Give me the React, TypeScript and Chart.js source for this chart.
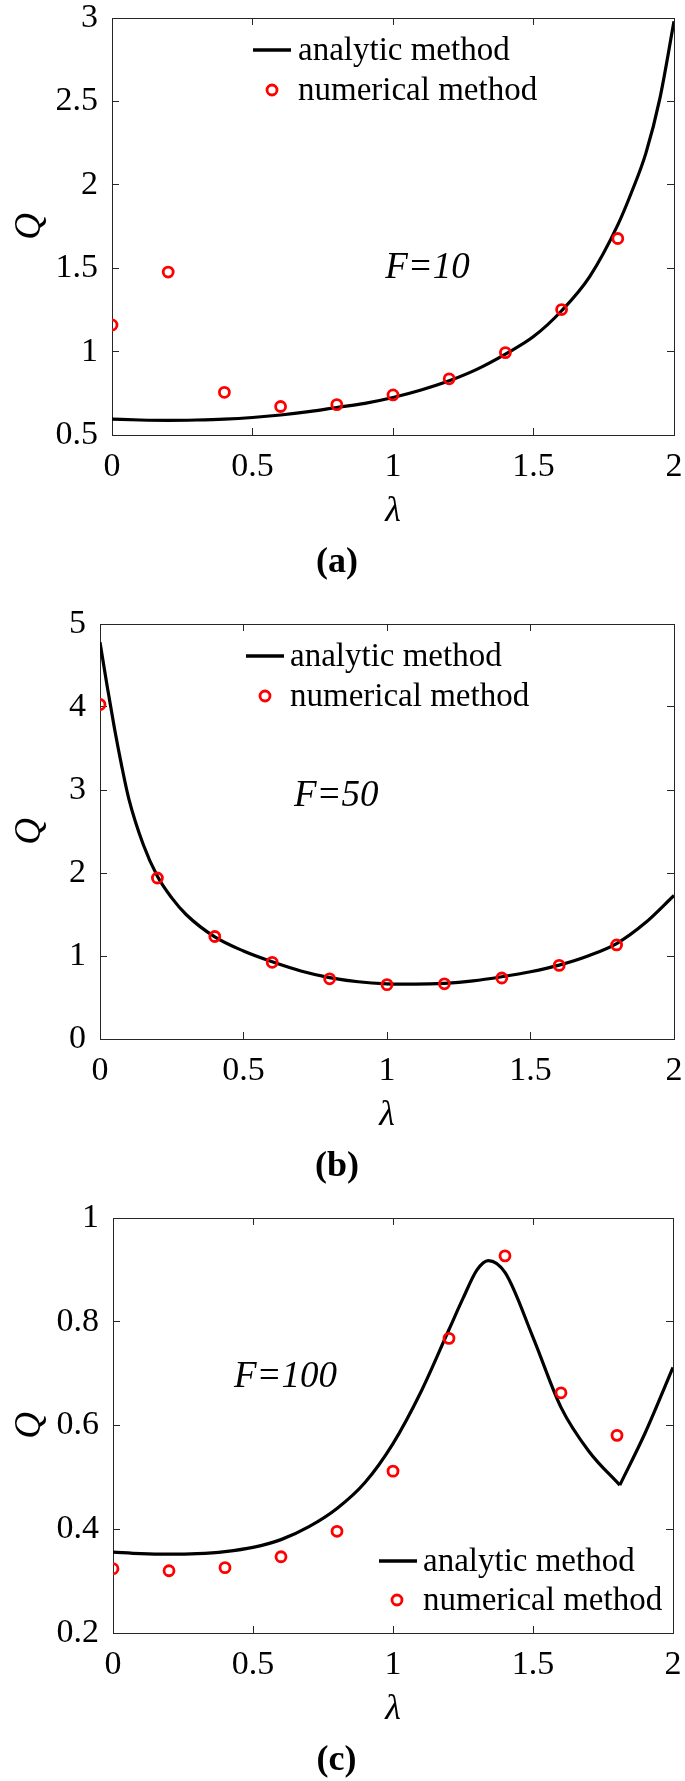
import React, { useEffect, useRef } from 'react';
import { Chart, registerables } from 'chart.js';

Chart.register(...registerables);

const FONT = '"Liberation Serif", "Times New Roman", Times, serif';
const AXIS_COLOR = '#262626';

// ---------- data ----------
const X_TICKS = [0, 0.5, 1, 1.5, 2];
const X_LABELS = ['0', '0.5', '1', '1.5', '2'];

const LAMBDA_NUM = [0, 0.2, 0.4, 0.6, 0.8, 1.0, 1.2, 1.4, 1.6, 1.8];

// (a) F=10
const Y_TICKS_A = [0.5, 1, 1.5, 2, 2.5, 3];
const Y_LABELS_A = ['0.5', '1', '1.5', '2', '2.5', '3'];
const NUM_A = [1.16, 1.477, 0.756, 0.671, 0.682, 0.74, 0.837, 0.994, 1.252, 1.678];
const LAMBDA_ANA_A = [0, 0.1, 0.2, 0.3, 0.4, 0.5, 0.6, 0.7, 0.8, 0.9, 1.0, 1.1, 1.2, 1.3, 1.4, 1.5, 1.6, 1.7, 1.8, 1.85, 1.9, 1.95, 2.0];
const ANA_A = [0.595, 0.59, 0.588, 0.59, 0.595, 0.605, 0.62, 0.64, 0.665, 0.69, 0.725, 0.77, 0.825, 0.895, 0.985, 1.09, 1.245, 1.45, 1.76, 1.96, 2.19, 2.52, 2.98];

// (b) F=50
const Y_TICKS_B = [0, 1, 2, 3, 4, 5];
const Y_LABELS_B = ['0', '1', '2', '3', '4', '5'];
const NUM_B = [4.03, 1.94, 1.235, 0.924, 0.725, 0.655, 0.665, 0.735, 0.887, 1.133];
const LAMBDA_ANA_B = [0, 0.025, 0.05, 0.075, 0.1, 0.15, 0.2, 0.25, 0.3, 0.4, 0.5, 0.6, 0.7, 0.8, 0.9, 1.0, 1.1, 1.2, 1.3, 1.4, 1.5, 1.6, 1.7, 1.8, 1.9, 2.0];
const ANA_B = [4.78, 4.25, 3.75, 3.3, 2.9, 2.35, 1.96, 1.7, 1.5, 1.23, 1.06, 0.93, 0.82, 0.74, 0.69, 0.665, 0.66, 0.67, 0.7, 0.75, 0.81, 0.89, 1.0, 1.15, 1.4, 1.73];

// (c) F=100
const Y_TICKS_C = [0.2, 0.4, 0.6, 0.8, 1];
const Y_LABELS_C = ['0.2', '0.4', '0.6', '0.8', '1'];
const NUM_C = [0.324, 0.32, 0.326, 0.347, 0.396, 0.512, 0.768, 0.927, 0.663, 0.581];
const LAMBDA_ANA_C1 = [0, 0.1, 0.2, 0.3, 0.4, 0.5, 0.6, 0.7, 0.8, 0.9, 1.0, 1.1, 1.2, 1.25, 1.3, 1.34, 1.4, 1.5, 1.6, 1.7, 1.81];
const ANA_C1 = [0.356, 0.353, 0.352, 0.353, 0.357, 0.365, 0.38, 0.405, 0.44, 0.49, 0.565, 0.665, 0.785, 0.845, 0.9, 0.918, 0.895, 0.77, 0.635, 0.55, 0.485];
const LAMBDA_ANA_C2 = [1.81, 1.9, 2.0];
const ANA_C2 = [0.485, 0.585, 0.712];

const SERIES_LINE = 'analytic method';
const SERIES_POINTS = 'numerical method';

type Panel = {
  key: string;
  top: number;
  height: number;
  padTop: number;
  axisLeft: number;
  padRight: number;
  captionPad: number;
  caption: string;
  yMin: number;
  yMax: number;
  yTicks: number[];
  yLabels: string[];
  num: number[];
  curves: { x: number[]; y: number[] }[];
  note: string;
  noteAt: [number, number];
  legend: { lineX: [number, number]; markerX: number; textX: number; row1: number; row2: number };
};

const PANELS: Panel[] = [
  {
    key: 'a', top: 0, height: 600, padTop: 18, axisLeft: 112, padRight: 11, captionPad: 19, caption: '(a)',
    yMin: 0.5, yMax: 3, yTicks: Y_TICKS_A, yLabels: Y_LABELS_A, num: NUM_A,
    curves: [{ x: LAMBDA_ANA_A, y: ANA_A }],
    note: 'F=10', noteAt: [0.972, 1.5],
    legend: { lineX: [141, 179], markerX: 160, textX: 186, row1: 32, row2: 72 },
  },
  {
    key: 'b', top: 600, height: 600, padTop: 24, axisLeft: 100, padRight: 11, captionPad: 15, caption: '(b)',
    yMin: 0, yMax: 5, yTicks: Y_TICKS_B, yLabels: Y_LABELS_B, num: NUM_B,
    curves: [{ x: LAMBDA_ANA_B, y: ANA_B }],
    note: 'F=50', noteAt: [0.676, 2.93],
    legend: { lineX: [146, 184], markerX: 165, textX: 190, row1: 32, row2: 72 },
  },
  {
    key: 'c', top: 1200, height: 581, padTop: 18, axisLeft: 113, padRight: 12, captionPad: 2, caption: '(c)',
    yMin: 0.2, yMax: 1, yTicks: Y_TICKS_C, yLabels: Y_LABELS_C, num: NUM_C,
    curves: [{ x: LAMBDA_ANA_C1, y: ANA_C1 }, { x: LAMBDA_ANA_C2, y: ANA_C2 }],
    note: 'F=100', noteAt: [0.432, 0.693],
    legend: { lineX: [266, 304], markerX: 284, textX: 310, row1: 343, row2: 382 },
  },
];

function gridOpts() {
  return { display: true, drawOnChartArea: false, drawTicks: true, tickLength: -7, color: AXIS_COLOR, lineWidth: 1 };
}
function borderOpts() {
  return { display: true, color: AXIS_COLOR, width: 1 };
}
function noPad(s: any) {
  s.paddingTop = 0;
  s.paddingBottom = 0;
  s.paddingLeft = 0;
  s.paddingRight = 0;
}

function buildChart(canvas: HTMLCanvasElement, p: Panel) {
  const overlay = {
    id: 'overlay_' + p.key,
    afterDatasetsDraw(chart: any) {
      const { ctx, chartArea: ca, scales } = chart;
      ctx.save();
      ctx.fillStyle = '#000';
      ctx.textAlign = 'left';
      ctx.textBaseline = 'middle';
      // annotation
      ctx.font = `italic 37px ${FONT}`;
      ctx.fillText(p.note, scales.x.getPixelForValue(p.noteAt[0]), scales.y.getPixelForValue(p.noteAt[1]));
      // legend
      const L = p.legend;
      ctx.strokeStyle = '#000';
      ctx.lineWidth = 3.5;
      ctx.beginPath();
      ctx.moveTo(ca.left + L.lineX[0], ca.top + L.row1);
      ctx.lineTo(ca.left + L.lineX[1], ca.top + L.row1);
      ctx.stroke();
      ctx.strokeStyle = '#ff0000';
      ctx.lineWidth = 2.8;
      ctx.beginPath();
      ctx.arc(ca.left + L.markerX, ca.top + L.row2, 5, 0, Math.PI * 2);
      ctx.stroke();
      ctx.font = `33px ${FONT}`;
      ctx.fillText(SERIES_LINE, ca.left + L.textX, ca.top + L.row1 + 1);
      ctx.fillText(SERIES_POINTS, ca.left + L.textX, ca.top + L.row2 + 1);
      ctx.restore();
    },
  };

  const tickFont = { family: FONT, size: 34, lineHeight: 1 };

  const datasets: any[] = [
    {
      label: SERIES_POINTS,
      data: LAMBDA_NUM.map((x, i) => ({ x, y: p.num[i] })),
      showLine: false,
      pointRadius: 5,
      pointHoverRadius: 5,
      pointBorderWidth: 2.8,
      borderColor: '#ff0000',
      pointBorderColor: '#ff0000',
      backgroundColor: 'rgba(0,0,0,0)',
      pointBackgroundColor: 'rgba(0,0,0,0)',
      order: 0,
    },
    ...p.curves.map((c) => ({
      label: SERIES_LINE,
      data: c.x.map((x, i) => ({ x, y: c.y[i] })),
      showLine: true,
      borderColor: '#000',
      borderWidth: 3.2,
      pointRadius: 0,
      pointHoverRadius: 0,
      cubicInterpolationMode: 'monotone',
      fill: false,
      order: 1,
    })),
  ];

  return new Chart(canvas, {
    type: 'scatter',
    data: { datasets },
    options: {
      responsive: false,
      animation: false,
      devicePixelRatio: 1,
      events: [],
      layout: { padding: { top: p.padTop, right: p.padRight, left: 0, bottom: 0 } },
      plugins: {
        legend: { display: false },
        tooltip: { enabled: false },
        title: {
          display: true,
          position: 'bottom',
          text: p.caption,
          color: '#000',
          font: { family: FONT, size: 36, weight: 'bold', lineHeight: 1 },
          padding: { top: 0, bottom: p.captionPad },
        },
      },
      scales: {
        x: {
          type: 'linear',
          position: 'bottom',
          min: 0,
          max: 2,
          afterBuildTicks: (s: any) => { s.ticks = X_TICKS.map((v) => ({ value: v })); },
          afterFit: (s: any) => { s.height = 110; noPad(s); },
          ticks: {
            callback: (_v: any, i: number) => X_LABELS[i],
            font: tickFont,
            color: '#000',
            padding: 22,
            maxRotation: 0,
            autoSkip: false,
          },
          grid: gridOpts(),
          border: borderOpts(),
          title: {
            display: true,
            text: 'λ',
            color: '#000',
            font: { family: FONT, size: 36, style: 'italic', lineHeight: 1 },
            padding: { top: 0, bottom: 15 },
          },
        },
        x2: {
          type: 'linear',
          position: 'top',
          min: 0,
          max: 2,
          afterBuildTicks: (s: any) => { s.ticks = X_TICKS.map((v) => ({ value: v })); },
          afterFit: (s: any) => { s.height = 0; noPad(s); },
          ticks: { display: false },
          grid: gridOpts(),
          border: borderOpts(),
        },
        y: {
          type: 'linear',
          position: 'left',
          min: p.yMin,
          max: p.yMax,
          afterBuildTicks: (s: any) => { s.ticks = p.yTicks.map((v) => ({ value: v })); },
          afterFit: (s: any) => { s.width = p.axisLeft; noPad(s); },
          ticks: {
            callback: (_v: any, i: number) => p.yLabels[i],
            font: tickFont,
            color: '#000',
            padding: 21,
            autoSkip: false,
          },
          grid: gridOpts(),
          border: borderOpts(),
          title: {
            display: true,
            text: 'Q',
            color: '#000',
            font: { family: FONT, size: 37, style: 'italic', lineHeight: 1 },
            padding: { top: 12, bottom: 0 },
          },
        },
        y2: {
          type: 'linear',
          position: 'right',
          min: p.yMin,
          max: p.yMax,
          afterBuildTicks: (s: any) => { s.ticks = p.yTicks.map((v) => ({ value: v })); },
          afterFit: (s: any) => { s.width = 0; noPad(s); },
          ticks: { display: false },
          grid: gridOpts(),
          border: borderOpts(),
        },
      },
    } as any,
    plugins: [overlay],
  });
}

function PanelChart({ p }: { p: Panel }) {
  const ref = useRef<HTMLCanvasElement>(null);
  useEffect(() => {
    const chart = buildChart(ref.current as HTMLCanvasElement, p);
    return () => chart.destroy();
  }, [p]);
  return (
    <canvas
      ref={ref}
      width={685}
      height={p.height}
      style={{ position: 'absolute', left: 0, top: p.top, width: 685, height: p.height, display: 'block' }}
    />
  );
}

export default function App() {
  return (
    <div style={{ position: 'absolute', left: 0, top: 0, width: 685, height: 1781, background: '#fff' }}>
      {PANELS.map((p) => (
        <PanelChart key={p.key} p={p} />
      ))}
    </div>
  );
}
